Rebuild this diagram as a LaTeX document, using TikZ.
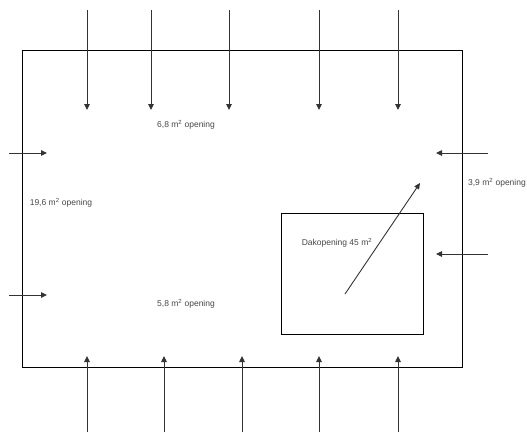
\documentclass[tikz,border=0pt]{standalone}
\usepackage{fontspec}
\setmainfont{Liberation Sans}
\usetikzlibrary{arrows.meta}
\definecolor{txtgray}{RGB}{70,70,70}
\tikzset{
  flow/.style={draw=black!80, line width=0.9pt, -{Triangle[length=6pt,width=5.5pt]}},
  wall/.style={draw=black, line width=1pt},
  lbl/.style={font=\fontsize{8.5}{10}\selectfont, text=txtgray, inner sep=0pt}
}
\begin{document}
\begin{tikzpicture}[x=1pt,y=-1pt]
\useasboundingbox (0,0) rectangle (527,432);
% outer building
\draw[wall] (22,50) rectangle (462,367);
% inner roof opening
\draw[wall] (281,213) rectangle (423,334);
% top arrows
\foreach \i/\x in {1/87,2/151,3/229,4/319,5/398}{
  \coordinate (ts\i) at (\x,10);
  \coordinate (te\i) at (\x,110);
  \draw[flow] (ts\i) -- (te\i);
}
% bottom arrows
\foreach \i/\x in {1/87,2/164,3/242,4/319,5/398}{
  \coordinate (bs\i) at (\x,432);
  \coordinate (be\i) at (\x,356);
  \draw[flow] (bs\i) -- (be\i);
}
% left arrows
\foreach \i/\y in {1/153,2/295}{
  \coordinate (ls\i) at (9,\y);
  \coordinate (le\i) at (47,\y);
  \draw[flow] (ls\i) -- (le\i);
}
% right arrows
\foreach \i/\y in {1/153,2/254}{
  \coordinate (rs\i) at (488,\y);
  \coordinate (re\i) at (436,\y);
  \draw[flow] (rs\i) -- (re\i);
}
% diagonal arrow
\coordinate (ds) at (345,294);
\coordinate (de) at (420,183);
\draw[flow] (ds) -- (de);
% labels
\node[lbl] (l1) at (186,125) {6,8 m\textsuperscript{2} opening};
\node[lbl] (l2) at (61,203) {19,6 m\textsuperscript{2} opening};
\node[lbl, anchor=east] (l3) at (526,183) {3,9 m\textsuperscript{2} opening};
\node[lbl] (l4) at (337,243) {Dakopening 45 m\textsuperscript{2}};
\node[lbl] (l5) at (186,304) {5,8 m\textsuperscript{2} opening};
\end{tikzpicture}
\end{document}
